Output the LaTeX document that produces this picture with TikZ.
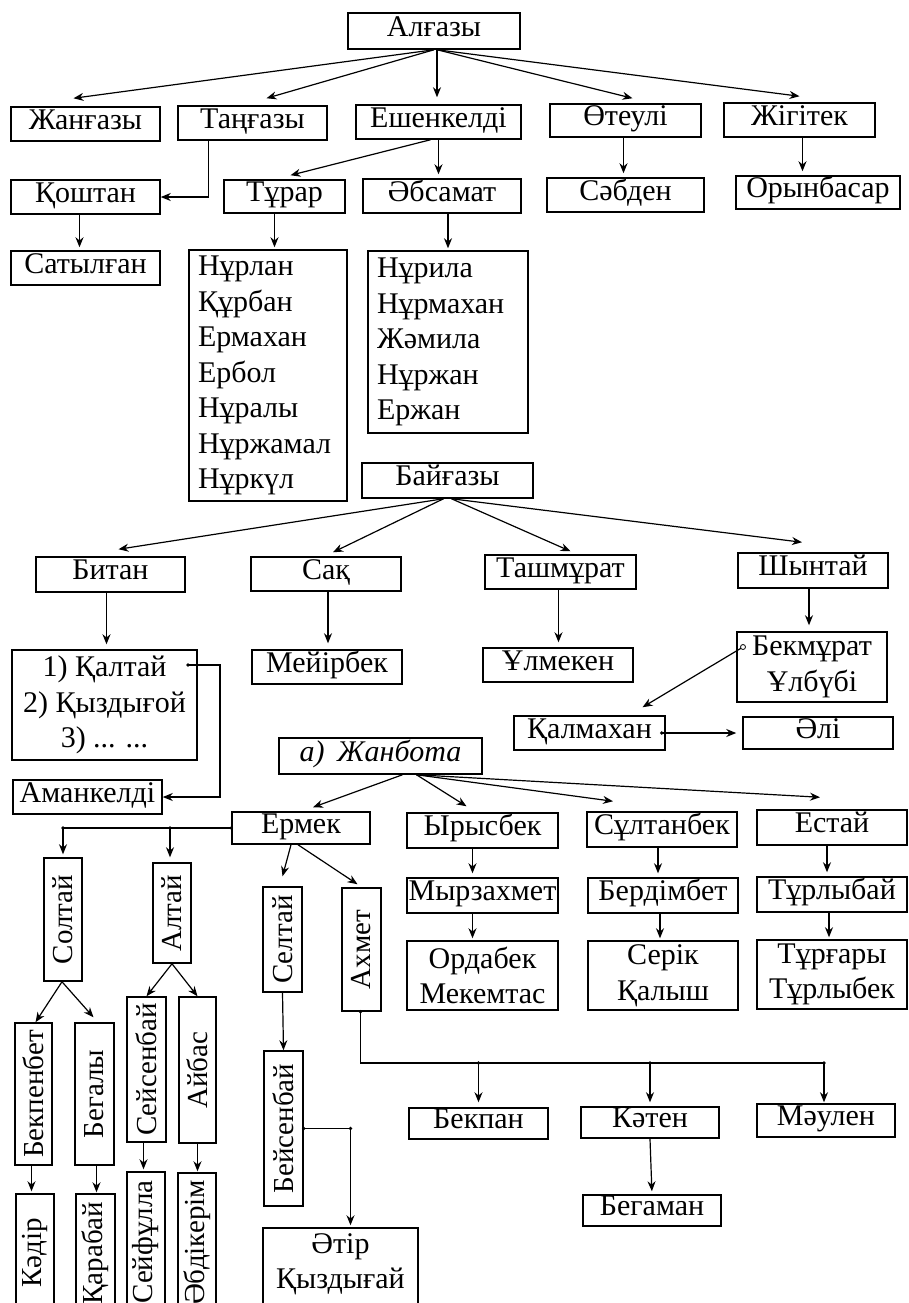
\documentclass[tikz,border=0pt]{standalone}
\usepackage{fontspec}
\setmainfont{Liberation Serif}
\usepackage{graphicx}
\usetikzlibrary{arrows.meta}
\tikzset{
  box/.style={draw, line width=0.75pt, inner sep=0pt, font=\fontsize{15}{17.75}\selectfont,
              text height=10pt, text depth=5pt},
  ml/.style={text height=, text depth=},
  arr/.style={-{Stealth[length=5pt,width=4pt]}, line width=0.6pt},
  ln/.style={line width=0.6pt},
  jdot/.style={circle, fill, inner sep=0pt, minimum size=1.8pt},
  odot/.style={circle, draw, fill=white, line width=0.4pt, inner sep=0pt, minimum size=2.5pt},
}
% \nbox[options]{name}{x1}{y1}{x2}{y2}{text}
\newcommand\nbox[7][]{\node[box,minimum width={(#5-#3)*0.5pt},minimum height={(#6-#4)*0.5pt},#1] (#2) at ({(#3+#5)/2},{(#4+#6)/2}) {#7};}
\newcommand\rt[1]{\rotatebox{90}{\fontsize{14.5}{17}\selectfont #1}}
\begin{document}
\begin{tikzpicture}[x=0.5pt,y=-0.5pt]
\path[fill=white,use as bounding box] (0,0) rectangle (909,1303);

% ---------- top tree ----------
\nbox{alg}{348}{13}{520}{49}{Алғазы}
\nbox{zhan}{11}{107}{160}{141}{Жанғазы}
\nbox{tang}{178}{106}{327}{140}{Таңғазы}
\nbox{esh}{356}{105}{521}{139}{Ешенкелді}
\nbox{oteu}{550}{104}{701}{137}{Өтеулі}
\nbox{zhig}{724}{103}{875}{137}{Жігітек}
\nbox{kosh}{11}{180}{160}{214}{Қоштан}
\nbox{tur}{224}{180}{345}{213}{Тұрар}
\nbox{abs}{363}{179}{521}{213}{Әбсамат}
\nbox{sab}{547}{178}{704}{212}{Сәбден}
\nbox{oryn}{736}{176}{900}{209}{Орынбасар}
\nbox{sat}{11}{251}{160}{285}{Сатылған}
\nbox[ml,align=left,text width=70pt]{turl}{189}{250}{347}{501}{Нұрлан\\Құрбан\\Ермахан\\Ербол\\Нұралы\\Нұржамал\\Нұркүл}
\nbox[ml,align=left,text width=71pt]{absl}{368}{251}{528}{433}{Нұрила\\Нұрмахан\\Жәмила\\Нұржан\\Ержан}

\draw[arr] (alg.south) -- ([xshift=-6pt,yshift=4pt]zhan.north);
\draw[arr] (alg.south) -- ([xshift=7pt,yshift=3.5pt]tang.north);
\draw[arr] ([xshift=1.5pt]alg.south) -- ([xshift=1.5pt]alg.south |- esh.north) [shorten >=3.5pt];
\draw[arr] ([xshift=1.5pt]alg.south) -- ([xshift=3.5pt,yshift=2.5pt]oteu.north);
\draw[arr] ([xshift=1.5pt]alg.south) -- ([yshift=3pt]zhig.north);
\draw[arr] ([xshift=-22pt]tang.south) |- (kosh.east);
\draw[arr] ([xshift=-4pt]esh.south) -- ([xshift=3pt,yshift=2pt]tur.north);
\draw[arr,shorten >=2pt] (esh.south) -- (esh.south |- abs.north);
\draw[arr,shorten >=2pt] ([xshift=-1pt]oteu.south) -- ([xshift=-1pt]oteu.south |- sab.north);
\draw[arr,shorten >=2pt] ([xshift=1.5pt]zhig.south) -- ([xshift=1.5pt]zhig.south |- oryn.north);
\draw[arr,shorten >=1.5pt] ([xshift=-3pt]kosh.south) -- ([xshift=-3pt]kosh.south |- sat.north);
\draw[arr,shorten >=1pt] ([xshift=-5pt]tur.south) -- ([xshift=-5pt]tur.south |- turl.north);
\draw[arr,shorten >=1pt] ([xshift=3pt]abs.south) -- ([xshift=3pt]abs.south |- absl.north);

% ---------- Байғазы ----------
\nbox{bay}{362}{463}{533}{498}{Байғазы}
\nbox{bit}{36}{557}{185}{592}{Битан}
\nbox{sak}{251}{557}{401}{591}{Сақ}
\nbox{tash}{485}{555}{636}{589}{Ташмұрат}
\nbox{shyn}{738}{553}{888}{588}{Шынтай}
\nbox[ml,align=center]{kalt}{12}{650}{197}{760}{1) Қалтай\\2) Қыздығой\\3) ... ...}
\nbox{meyr}{252}{650}{402}{684}{Мейірбек}
\nbox{ulm}{483}{648}{633}{682}{Ұлмекен}
\nbox[ml,align=center]{bekm}{737}{632}{887}{702}{Бекмұрат\\Ұлбүбі}
\nbox{kalm}{514}{716}{665}{750}{Қалмахан}
\nbox{ali}{743}{717}{893}{749}{Әлі}
\nbox{aman}{13}{780}{162}{814}{Аманкелді}

\draw[arr] ([xshift=-2pt]bay.south) -- ([xshift=4pt,yshift=3.5pt]bit.north);
\draw[arr] ([xshift=-2pt]bay.south) -- ([xshift=3.5pt,yshift=2pt]sak.north);
\draw[arr] ([xshift=2pt]bay.south) -- ([xshift=5pt,yshift=1.5pt]tash.north);
\draw[arr] ([xshift=2pt]bay.south) -- ([xshift=-5.5pt,yshift=5pt]shyn.north);
\draw[arr,shorten >=2.5pt] ([xshift=-2pt]bit.south) -- ([xshift=-2pt]bit.south |- kalt.north);
\draw[arr,shorten >=3pt] ([xshift=1pt]sak.south) -- ([xshift=1pt]sak.south |- meyr.north);
\draw[arr,shorten >=2.5pt] ([xshift=-1pt]tash.south) -- ([xshift=-1pt]tash.south |- ulm.north);
\draw[arr,shorten >=3pt] ([xshift=-2pt]shyn.south) -- ([xshift=-2pt]shyn.south |- bekm.north);

\coordinate (kd) at (188,665);
\coordinate (kc) at (220,665);
\draw[arr] (kd) -- (kc) |- (aman.east);
\node[jdot] (kdd) at (kd) {};

\coordinate (bd) at (743,647);
\draw[arr] (bd) -- ([xshift=26.5pt,yshift=4pt]kalm.north);
\node[odot] (bdd) at (bd) {};

\coordinate (qd) at ([xshift=-2pt]kalm.east);
\draw[arr,shorten >=3pt] (qd) -- (ali.west);
\node[jdot] (qdd) at (qd) {};

% ---------- Жанбота ----------
\nbox{zhb}{279}{738}{482}{774}{\itshape а)\, Жанбота}
\nbox{erm}{232}{812}{370}{844}{Ермек}
\nbox{yr}{407}{813}{558}{848}{Ырысбек}
\nbox{sul}{587}{812}{737}{847}{Сұлтанбек}
\nbox{est}{757}{810}{907}{845}{Естай}
\nbox{myr}{407}{878}{558}{913}{Мырзахмет}
\nbox{berd}{588}{878}{738}{913}{Бердімбет}
\nbox{turb}{757}{877}{907}{912}{Тұрлыбай}
\nbox[ml,align=center]{ord}{407}{941}{558}{1010}{Ордабек\\Мекемтас}
\nbox[ml,align=center]{ser}{588}{941}{738}{1010}{Серік\\Қалыш}
\nbox[ml,align=center]{turg}{757}{940}{907}{1009}{Тұрғары\\Тұрлыбек}
\nbox{bekpan}{409}{1108}{548}{1139}{Бекпан}
\nbox{katen}{581}{1107}{719}{1138}{Кәтен}
\nbox{maul}{757}{1104}{895}{1137}{Мәулен}
\nbox{begam}{583}{1195}{721}{1226}{Бегаман}

\nbox[ml]{solt}{44}{858}{82}{981}{\rt{Солтай}}
\nbox[ml]{alt}{153}{863}{191}{963}{\rt{Алтай}}
\nbox[ml]{selt}{263}{887}{302}{992}{\rt{Селтай}}
\nbox[ml]{ahm}{342}{888}{381}{1011}{\rt{Ахмет}}
\nbox[ml]{bekp}{15}{1023}{52}{1165}{\rt{Бекпенбет}}
\nbox[ml]{begl}{75}{1023}{114}{1165}{\rt{Бегалы}}
\nbox[ml]{seis}{127}{997}{166}{1142}{\rt{Сейсенбай}}
\nbox[ml]{aib}{179}{997}{216}{1143}{\rt{Айбас}}
\nbox[ml]{beis}{264}{1051}{303}{1206}{\rt{Бейсенбай}}
\nbox[ml]{kadr}{16}{1194}{54}{1312}{\rt{Кәдір}}
\nbox[ml]{karb}{76}{1194}{115}{1312}{\rt{Қарабай}}
\nbox[ml]{seif}{127}{1172}{165}{1312}{\rt{Сейфұлла}}
\nbox[ml]{abd}{178}{1173}{216}{1312}{\rt{Әбдікерім}}
\nbox[ml,align=center]{etir}{263}{1228}{418}{1312}{Әтір\\Қыздығай\\[-9pt]\mbox{}}

\draw[arr] ([xshift=11pt]zhb.south) -- ([xshift=6pt,yshift=2pt]erm.north);
\draw[arr] ([xshift=18pt]zhb.south) -- ([xshift=-8pt,yshift=3pt]yr.north);
\draw[arr] ([xshift=18pt]zhb.south) -- ([xshift=-24.5pt,yshift=5pt]sul.north);
\draw[arr] ([xshift=18pt]zhb.south) -- ([xshift=-6pt,yshift=6pt]est.north);

\draw[arr,shorten >=2pt] ([xshift=-5pt]yr.south) -- ([xshift=-5pt]yr.south |- myr.north);
\draw[arr,shorten >=2pt] ([xshift=-2pt]sul.south) -- ([xshift=-2pt]sul.south |- berd.north);
\draw[arr,shorten >=2pt] ([xshift=-2.5pt]est.south) -- ([xshift=-2.5pt]est.south |- turb.north);
\draw[arr,shorten >=1pt] ([xshift=-5pt]myr.south) -- ([xshift=-5pt]myr.south |- ord.north);
\draw[arr,shorten >=1pt] ([xshift=-1.5pt]berd.south) -- ([xshift=-1.5pt]berd.south |- ser.north);
\draw[arr,shorten >=1pt] ([xshift=-1.5pt]turb.south) -- ([xshift=-1.5pt]turb.south |- turg.north);

% Ермек -> Солтай, Алтай
\coordinate (bS) at (solt.north |- erm.west);
\coordinate (bA) at ([xshift=-1pt]alt.north |- erm.west);
\draw[ln] (erm.west) -- (bS);
\draw[arr,shorten >=1.5pt] (bS) -- (solt.north);
\draw[arr,shorten >=2.5pt] (bA) -- (bA |- alt.north);
\node[jdot] (ed1) at (erm.west) {};
\node[jdot] (ed2) at (bS) {};
\node[jdot] (ed3) at (bA) {};

\draw[arr] ([xshift=-5pt]erm.south) -- ([yshift=5pt]selt.north);
\draw[arr] ([xshift=-1.5pt]erm.south) -- ([xshift=-2pt,yshift=1.5pt]ahm.north);

\draw[arr] ([xshift=-0.5pt]solt.south) -- ([xshift=1pt]bekp.north);
\draw[arr] ([xshift=-0.5pt]solt.south) -- ([xshift=-0.5pt,yshift=2.5pt]begl.north);
\draw[arr] (alt.south) -- (seis.north);
\draw[arr] (alt.south) -- (aib.north);
\draw[arr,shorten >=1pt] ([xshift=-1pt]bekp.south) -- ([xshift=-1pt]bekp.south |- kadr.north);
\draw[arr,shorten >=0.5pt] ([xshift=1pt]begl.south) -- ([xshift=1pt]begl.south |- karb.north);
\draw[arr,shorten >=1pt] ([xshift=-1.5pt]seis.south) -- ([xshift=-1.5pt]seis.south |- seif.north);
\draw[arr,shorten >=0.5pt] (aib.south) -- (aib.south |- abd.north);
\draw[arr] (selt.south) -- (beis.north);

% Бейсенбай -> Әтір
\coordinate (bc) at ([xshift=5pt]etir.north |- beis.east);
\draw[arr,shorten >=1pt] (beis.east) -- (bc) -- ([xshift=5pt]etir.north);
\node[jdot] (bd1) at (beis.east) {};
\node[jdot] (bd2) at (bc) {};

% Ахмет -> Бекпан, Кәтен, Мәулен
\coordinate (hR) at ([xshift=-1pt]maul.north |- 0,1063);
\coordinate (hB) at (bekpan.north |- hR);
\coordinate (hK) at (katen.north |- hR);
\draw[ln] ([xshift=-0.5pt]ahm.south) |- (hR);
\draw[arr,shorten >=2.5pt] (hB) -- (bekpan.north);
\draw[arr,shorten >=2pt] (hK) -- (katen.north);
\draw[arr,shorten >=0.5pt] (hR) -- (hR |- maul.north);
\node[jdot] (ad0) at ([xshift=-0.5pt]ahm.south) {};
\node[jdot] (ad1) at (hB) {};
\node[jdot] (ad2) at (hK) {};
\node[jdot] (ad3) at (hR) {};
\draw[arr,shorten >=1.5pt] (katen.south) -- (begam.north);
\end{tikzpicture}
\end{document}
